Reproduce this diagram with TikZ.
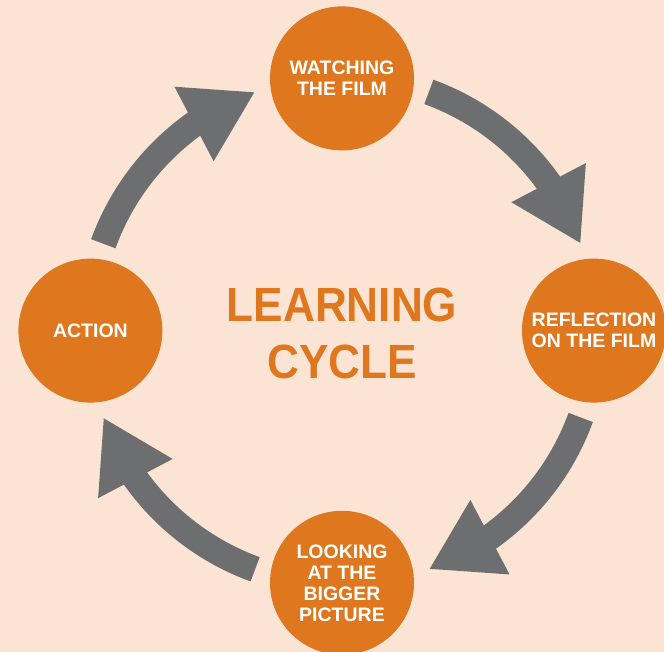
\documentclass[tikz,border=0pt]{standalone}
\definecolor{pagepeach}{RGB}{251, 228, 212}
\definecolor{cycleorange}{RGB}{222, 119, 30}
\definecolor{arrowgrey}{RGB}{109, 110, 112}
\usepackage{fontspec}
\setmainfont{Liberation Sans}
\newfontfamily\titlefont[FakeStretch=0.92]{Liberation Sans}
\usepackage{tikz}
\usetikzlibrary{arrows.meta, bending}

\begin{document}
\begin{tikzpicture}[x=1pt, y=1pt,
    stage/.style={circle, fill=cycleorange, minimum size=144pt, inner sep=0pt, text=white, align=center, font=\bfseries\fontsize{19.5}{21}\selectfont},
    flow/.style={draw=arrowgrey, line width=26pt, -{Triangle[flex, length=69pt, width=79pt]}}]
                    \fill[pagepeach] (-342,-321.4) rectangle (322,330.6);
                    \useasboundingbox (-342,-321.4) rectangle (322,330.6);
                    \coordinate (hub) at (0,0);
                    \foreach \s in {70,-20,-110,160}
                        \draw[flow] ([shift={(\s:254)}]hub) arc[start angle=\s, end angle=\s-50, radius=254];
                    \node[stage] (watch) at (0,252.2) {WATCHING\\THE FILM};
                    \node[stage] (reflect) at (252,0) {REFLECTION\\ON THE FILM};
                    \node[stage] (bigger) at (0,-252.2) {LOOKING\\AT THE\\BIGGER\\PICTURE};
                    \node[stage] (action) at (-251.6,0) {ACTION};
                    \node[text=cycleorange, align=center, font=\titlefont\bfseries\fontsize{48}{56.3}\selectfont] (title) at (0,-3) {LEARNING\\CYCLE};
                \end{tikzpicture}
\end{document}
